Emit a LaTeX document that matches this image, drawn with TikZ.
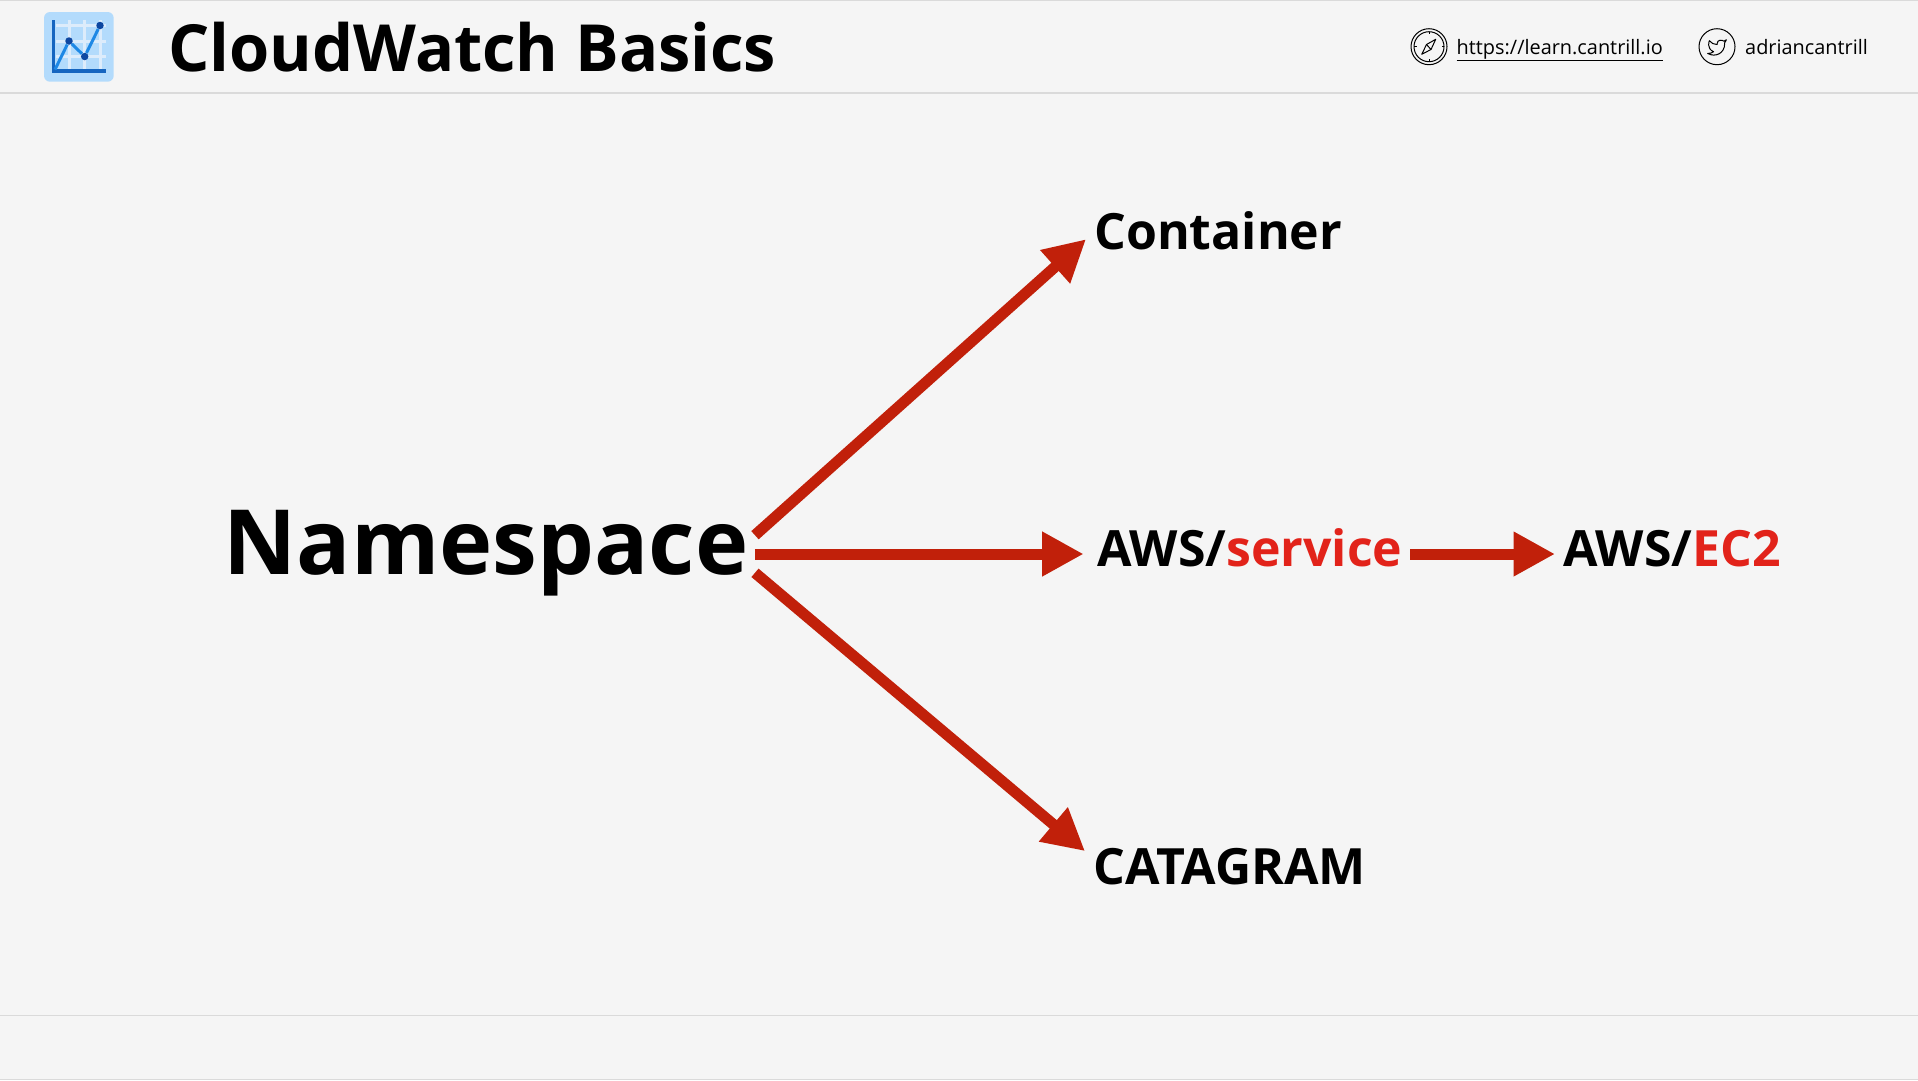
\documentclass[tikz,border=0pt]{standalone}
\usepackage{fontspec}
\setmainfont{Open Sans}
\usetikzlibrary{arrows.meta}
\definecolor{slidebg}{HTML}{F5F5F5}
\definecolor{rulegrey}{HTML}{DADADA}
\definecolor{arrowred}{HTML}{C1200A}
\definecolor{textred}{HTML}{E2231A}
\definecolor{iconbg}{HTML}{B3DBFC}
\definecolor{icongrid}{HTML}{DDECFB}
\definecolor{iconaxis}{HTML}{1565C0}
\definecolor{iconline}{HTML}{1E88E5}
\definecolor{icondot}{HTML}{0D47A1}
\begin{document}
\begin{tikzpicture}[x=1pt,y=-1pt]
\tikzset{
    headline/.style={anchor=base west, inner sep=0pt, font=\fontsize{65}{70}\selectfont\bfseries},
    small/.style={anchor=base west, inner sep=0pt, font=\fontsize{19.9}{24}\selectfont},
    badge/.style={draw, circle, inner sep=0pt, minimum size=36pt, line width=1pt},
    big/.style={anchor=west, inner sep=6.5pt, text height=68pt, text depth=28pt, font=\fontsize{90}{96}\selectfont\bfseries},
    label/.style={anchor=west, inner xsep=8pt, inner ysep=10pt, text height=34pt, text depth=8.8pt, font=\fontsize{50}{56}\selectfont\bfseries},
    flow/.style={draw=arrowred, line width=11pt, -{Triangle[length=41.5pt,width=42pt,fill=arrowred]}},
    dot/.style={circle, inner sep=0pt, minimum size=7.5pt, fill=icondot}
}
    \useasboundingbox (0,0) rectangle (1918,1080);
    \fill[slidebg] (0,0) rectangle (1918,1080);
    \draw[rulegrey, line width=1.5pt] (0,93) -- (1918,93);
    \draw[rulegrey, line width=1.2pt] (0,1015.5) -- (1918,1015.5);
    \draw[rulegrey, line width=1pt] (0,.5) -- (1918,.5);
    \draw[rulegrey, line width=1pt] (0,1079.5) -- (1918,1079.5);

    % chart icon
    \fill[iconbg, rounded corners=6pt] (44,12) rectangle (113.7,81.7);
    \foreach \gx in {69,84.7,100} \draw[icongrid, line width=3pt] (\gx,20) -- (\gx,70);
    \foreach \gy in {25.5,41.5,56.5} \draw[icongrid, line width=3pt] (56,\gy) -- (106,\gy);
    \draw[iconaxis, line width=3.5pt] (53.7,20) -- (53.7,71) -- (106,71);
    \node[dot] at (69,41) (d1) {};
    \node[dot] at (84.7,56.5) (d2) {};
    \node[dot] at (100,25.5) (d3) {};
    \coordinate (d0) at (55,69.5);
    \draw[iconline, line width=3pt] (d0) -- (d1) -- (d2) -- (d3);

    \node[headline] at (168,71.5) (title) {CloudWatch Basics};

    % links at the top right
    \node[badge] at (1429,46.7) (web) {};
    \draw[line width=1pt] (web) circle (15pt);
    \draw[line width=1pt, line join=round] (1435.7,39.3) -- (1431,49.5) -- (1421.7,54.3) -- (1426.5,44.5) -- cycle;
    \draw[line width=1pt] (1426.5,44.5) -- (1431,49.5);
    \foreach \tick in {0,90,180,270} \draw[line width=.8pt] ([shift={(\tick:15pt)}]web.center) -- ([shift={(\tick:12.5pt)}]web.center);
    \node[small] at (1456.5,54.5) (site) {\underline{https://learn.cantrill.io}};
    \node[badge] at (1717,46.7) (bird) {};
    \begin{scope}[shift={(1706.8,37.3)},scale=.85]
    \draw[line width=1pt, line join=round] (23,3) .. controls (22.2,3.7) and (21,4.2) .. (20,4.53)
        .. controls (18.5,2.9) and (12.1,2.3) .. (12.14,7.53) -- (12.14,8.53)
        .. controls (8.6,8.6) and (5.1,6.9) .. (3,4) .. controls (3,4) and (-1,13) .. (8,17)
        .. controls (5.9,18.4) and (3.5,19.1) .. (1,19) .. controls (10,24) and (21,19) .. (21,7.5)
        .. controls (21,7.2) and (21,6.9) .. (20.92,6.67) .. controls (21.9,5.7) and (22.7,4.4) .. (23,3) -- cycle;
    \end{scope}
    \node[small] at (1745,54.5) (handle) {adriancantrill};

    % the diagram
    \node[big] at (217,554) (ns) {Namespace};
    \node[label] at (1086,236.9) (container) {Container};
    \node[label] at (1089,554) (svc) {AWS/\textcolor{textred}{service}};
    \node[label] at (1555,554) (ec2) {AWS/\textcolor{textred}{EC2}};
    \node[label] at (1085,871.4) (cata) {CATAGRAM};

    \path[flow] (ns.4.9) -- (container.181.75);
    \path[flow, shorten >=5.4pt] (ns.east) -- (svc.west);
    \path[flow] (ns.-4.9) -- (cata.172.3);
    \path[flow] (svc.east) -- (ec2.west);
\end{tikzpicture}
\end{document}
